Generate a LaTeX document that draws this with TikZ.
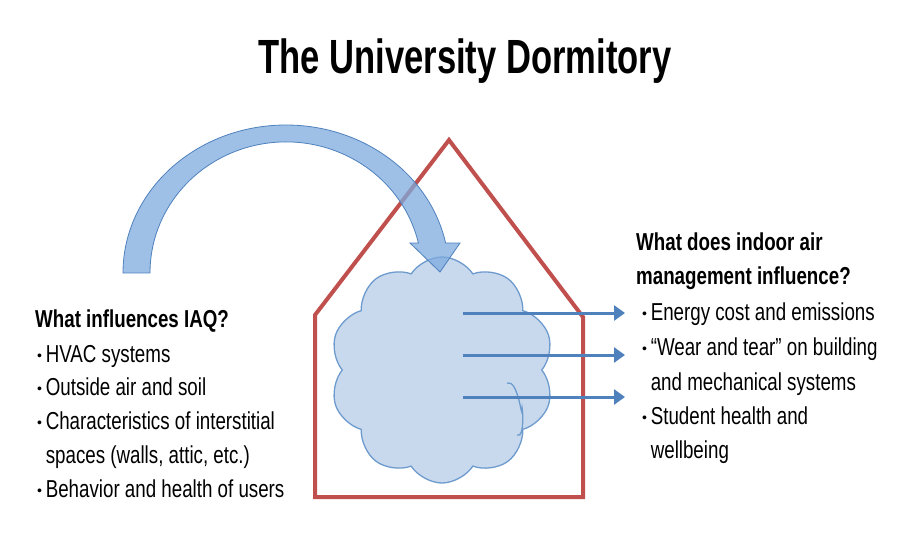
\documentclass[tikz,border=0pt]{standalone}
\usepackage{fontspec}
\setmainfont{Liberation Sans}[FakeStretch=0.765]
\newfontfamily\titlefont{Liberation Sans}[FakeStretch=0.72]
\usetikzlibrary{shapes.symbols,arrows.meta}
\definecolor{housered}{RGB}{192,80,77}
\definecolor{flowblue}{RGB}{79,129,189}
\definecolor{cloudfill}{RGB}{200,217,238}
\definecolor{cloudline}{RGB}{110,155,205}
\definecolor{bendblue}{RGB}{125,170,222}
\newcommand\bul{\raisebox{0.08em}{\scalebox{0.75}[0.57]{•}}\hspace{0.15em}}
\tikzset{
 txt/.style={anchor=base west,inner sep=0pt,font=\fontsize{24.5}{29}\selectfont},
 head/.style={txt,font=\fontsize{24.5}{29}\selectfont\bfseries},
 flow/.style={draw=flowblue,line width=3pt,-{Triangle[length=11pt,width=15pt]}},
}
\begin{document}
\begin{tikzpicture}[x=1pt,y=-1pt]
\useasboundingbox (0,0) rectangle (900,550);
%%%%% title
\node[anchor=base,inner sep=0pt,font=\titlefont\bfseries\fontsize{48}{56}\selectfont] (title) at (465,73) {The University Dormitory};

%%%%% house
\draw[housered,line width=4pt,line join=miter] (315,497) -- (315,315) -- (449,140) -- (583,317) -- (583,497) -- cycle;

%%%%% indoor air
\node[cloud,cloud puffs=10,cloud puff arc=115,aspect=1,draw=cloudline,fill=cloudfill,line width=1.3pt,
 minimum width=224pt,minimum height=226pt,inner sep=0pt] (air) at (442,370) {};
\draw[cloudline,line width=1.3pt] (507,383) to[out=20,in=-90] (522,410) to[out=90,in=-30] (517,435);

%%%%% outgoing arrows
\foreach \i/\y in {1/313,2/355,3/397}
{
 \coordinate (s\i) at (463,\y);
 \coordinate (t\i) at (625,\y);
 \draw[flow] (s\i) -- (t\i);
}

%%%%% bent arrow into the house
\draw[draw=flowblue,fill=bendblue,fill opacity=0.75,line width=0.8pt]
 (123,273) arc[start angle=180,end angle=348.3,x radius=163,y radius=148]
 -- (460,243) -- (440,272) -- (410,243) -- (418.4,243)
 arc[start angle=346.8,end angle=180,x radius=136,y radius=131] -- cycle;

%%%%% left list
\def\xl{37}
\node[head] (lhead) at (35,327) {What influences IAQ?};
\node[txt] (l1) at (\xl,362) {\bul HVAC systems};
\node[txt] (l2) at (\xl,395) {\bul Outside air and soil};
\node[txt] (l3) at (\xl,429) {\bul Characteristics of interstitial};
\node[txt] (l4) at (\xl,463) {\phantom{\bul}spaces (walls, attic, etc.)};
\node[txt] (l5) at (\xl,497) {\bul Behavior and health of users};

%%%%% right list
\def\xr{642}
\node[head] (rhead1) at (636,250) {What does indoor air};
\node[head] (rhead2) at (636,284) {management influence?};
\node[txt] (r1) at (\xr,320) {\bul Energy cost and emissions};
\node[txt] (r2) at (\xr,355) {\bul “Wear and tear” on building};
\node[txt] (r3) at (\xr,390) {\phantom{\bul}and mechanical systems};
\node[txt] (r4) at (\xr,424) {\bul Student health and};
\node[txt] (r5) at (\xr,458) {\phantom{\bul}wellbeing};
\end{tikzpicture}
\end{document}
